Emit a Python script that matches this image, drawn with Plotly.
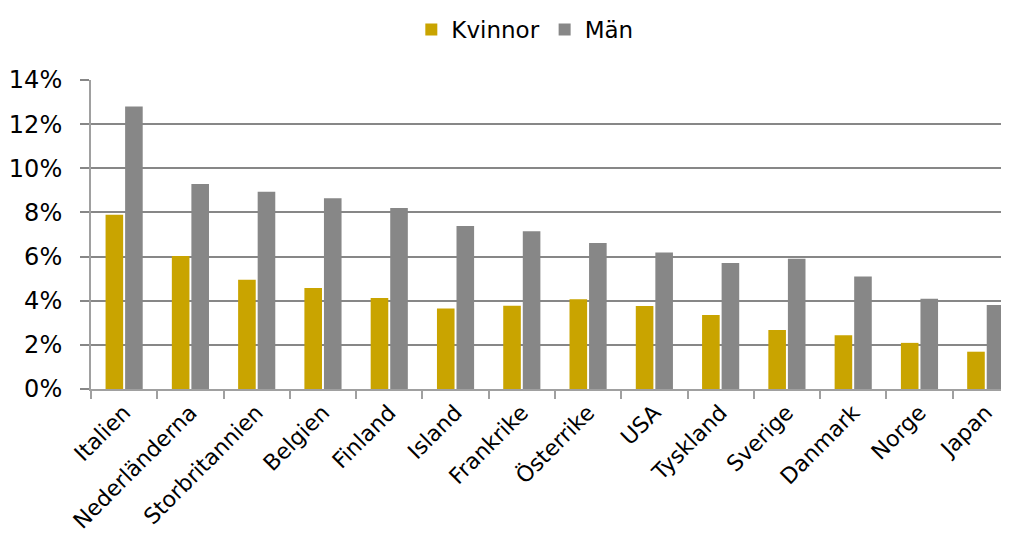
import plotly.graph_objects as go

countries = [
    "Italien", "Nederländerna", "Storbritannien", "Belgien", "Finland", "Island",
    "Frankrike", "Österrike", "USA", "Tyskland", "Sverige", "Danmark", "Norge", "Japan",
]
kvinnor = [7.9, 6.03, 4.95, 4.58, 4.12, 3.65, 3.77, 4.07, 3.76, 3.35, 2.67, 2.44, 2.09, 1.69]
man = [12.8, 9.29, 8.94, 8.64, 8.2, 7.38, 7.15, 6.62, 6.18, 5.71, 5.9, 5.1, 4.09, 3.81]
y_ticks = [0, 2, 4, 6, 8, 10, 12, 14]
y_labels = ["0%", "2%", "4%", "6%", "8%", "10%", "12%", "14%"]

GOLD = "#C9A400"
GREY = "#878787"
AXIS = "#A0A0A0"
FONT = "DejaVu Sans"

fig = go.Figure()
fig.add_trace(go.Bar(name="Kvinnor", x=countries, y=kvinnor, marker=dict(color=GOLD, line=dict(width=0))))
fig.add_trace(go.Bar(name="Män", x=countries, y=man, marker=dict(color=GREY, line=dict(width=0))))

# the page body adds 8px on each side, so the figure is shrunk to fit the window
fig.update_layout(
    width=993,
    height=526,
    margin=dict(l=83, r=0, t=72, b=145),
    plot_bgcolor="white",
    paper_bgcolor="white",
    font=dict(family=FONT, size=24, color="#000000"),
    barmode="group",
    bargap=0.41,
    bargroupgap=0.1,
    legend=dict(
        orientation="h",
        x=0.352,
        xanchor="left",
        y=1.233,
        yanchor="top",
        font=dict(size=23),
        itemwidth=30,
        tracegroupgap=0,
    ),
)

fig.update_xaxes(
    range=[-0.5, 13.23],
    tickangle=-45,
    tickfont=dict(size=22),
    tickson="boundaries",
    ticks="outside",
    ticklen=8,
    tickwidth=2,
    tickcolor=AXIS,
    showline=True,
    linecolor=AXIS,
    linewidth=2,
    showgrid=False,
    automargin=False,
)
fig.update_yaxes(
    range=[0, 14],
    tickvals=y_ticks,
    ticktext=y_labels,
    ticks="outside",
    ticklen=9,
    tickwidth=2,
    tickcolor=GREY,
    showline=True,
    linecolor=AXIS,
    linewidth=2,
    showgrid=True,
    gridcolor=GREY,
    gridwidth=2,
    zeroline=False,
    ticklabelstandoff=13,
    automargin=False,
)

fig.write_html("out.html")
